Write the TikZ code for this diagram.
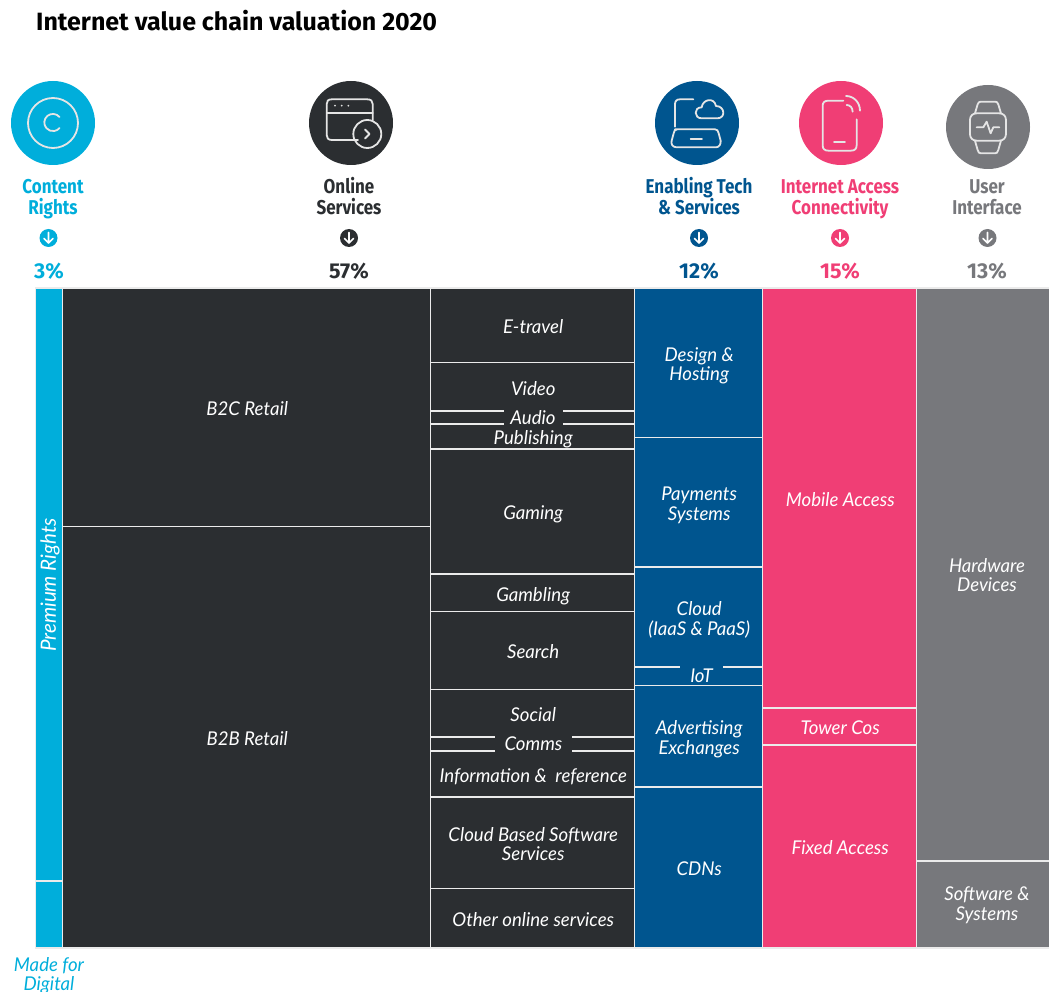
\documentclass[tikz,border=0pt]{standalone}
\usepackage{fontspec}
\setmainfont{Lato}
\newfontfamily\headf[FakeStretch=0.85]{Fira Sans}
\newfontfamily\pctf{Fira Sans}
\newfontfamily\titlef[FakeStretch=1.0]{Fira Sans}
\newfontfamily\cellf[FakeStretch=0.98]{Lato}
\definecolor{cCyan}{HTML}{00AEDB}
\definecolor{cDark}{HTML}{2B2E31}
\definecolor{cBlue}{HTML}{00558F}
\definecolor{cPink}{HTML}{F03E75}
\definecolor{cGrey}{HTML}{77787C}
\tikzset{
  x=1pt,y=-1pt,
  celltext/.style={text=white,align=center,inner sep=0pt,font=\cellf\itshape\fontsize{19}{19.5}\selectfont},
  gaptext/.style={celltext,minimum height=17pt},
  head/.style={align=center,inner sep=0pt,font=\headf\bfseries\fontsize{20}{21}\selectfont},
  pct/.style={inner sep=0pt,font=\pctf\bfseries\fontsize{21.5}{23}\selectfont},
  disc/.style={circle,inner sep=0pt,minimum size=84pt},
  smalldisc/.style={circle,inner sep=0pt,minimum size=18pt},
  ico/.style={draw=white!90!black,line width=1.8pt,line cap=round,line join=round},
}
% \cell{name}{x0}{y0}{x1}{y1}{colour}{text}
\newcommand{\cell}[7]{%
  \fill[#6,draw=white!92!black,line width=1.1pt] (#2,#3) rectangle (#4,#5);
  \node[celltext] (#1) at ({(#2+#4)/2+0.7},{(#3+#5)/2+3}) {#7\vphantom{g}};}
% \arrowdot{name}{x}{colour}
\newcommand{\arrowdot}[3]{%
  \node[smalldisc,fill=#3] (#1) at (#2,238) {};
  \draw[white,line width=1.6pt,line cap=round,line join=round]
    (#2,232.5) -- (#2,243) (#2-4.5,238.5) -- (#2,243) -- (#2+4.5,238.5);}
\begin{document}
\begin{tikzpicture}
\useasboundingbox (0,0) rectangle (1049,992);
\node[anchor=west,inner sep=0pt,font=\titlef\bfseries\fontsize{25}{27}\selectfont] (title) at (36,21) {Internet value chain valuation 2020};

% discs
\node[disc,fill=cCyan] (d1) at (53,123) {};
\node[disc,fill=cDark] (d2) at (351,123) {};
\node[disc,fill=cBlue] (d3) at (697,123) {};
\node[disc,fill=cPink] (d4) at (841,123) {};
\node[disc,fill=cGrey] (d5) at (988,127) {};

% copyright icon
\draw[ico] (53,123) circle (25);
\draw[ico] (59.5,117) arc[start angle=-40,end angle=-320,radius=8.6,x radius=8.6,y radius=8.6];

% window icon
\draw[ico] (358,140) -- (332,140) .. controls (328,140) and (326.7,138) .. (326.7,135) -- (326.7,104)
  .. controls (326.7,101) and (328,99.3) .. (332,99.3) -- (367,99.3) .. controls (371,99.3) and (372.7,101) .. (372.7,104) -- (372.7,120);
\draw[ico] (326.7,112.7) -- (372.7,112.7);
\fill[white!88!black] (335,105.7) circle (1) (341.7,105.7) circle (1) (348.3,105.7) circle (1);
\draw[ico] (367.3,134) circle (14);
\draw[ico,line width=1.9pt] (365,129.5) -- (369.5,134) -- (365,138.5);

% laptop + cloud
\begin{scope}[shift={(630,70)},x=0.3333pt,y=-0.3333pt]
\draw[ico] (190,88) -- (150,88) .. controls (140,88) and (135,93) .. (135,103) -- (135,170);
\draw[ico] (135,178) -- (255,178) .. controls (262,178) and (264,182) .. (266,190) -- (272,212)
  .. controls (273,222) and (268,232) .. (258,232) -- (140,232) .. controls (128,232) and (122,222) .. (125,212) -- (131,190) .. controls (132,182) and (135,178) .. (142,178);
\draw[ico] (182,208) -- (216,208);
\draw[ico] (215,145) .. controls (192,145) and (190,112) .. (215,112) .. controls (218,88) and (252,80) .. (258,108)
  .. controls (285,108) and (288,145) .. (262,145) -- cycle;
% phone
\draw[ico] (640,92) -- (595,92) .. controls (583,92) and (578,98) .. (578,108) -- (578,226)
  .. controls (578,237) and (584,242) .. (595,242) -- (663,242) .. controls (674,242) and (680,237) .. (680,226) -- (680,148);
\draw[ico] (612,215) -- (645,215);
\draw[ico] (650,105) .. controls (660,105) and (668,113) .. (668,125);
\draw[ico] (648,78) .. controls (672,78) and (690,98) .. (690,122);
% watch
\draw[ico] (1040,130) -- (1108,130) .. controls (1120,130) and (1128,138) .. (1128,150) -- (1128,192)
  .. controls (1128,204) and (1120,212) .. (1108,212) -- (1040,212) .. controls (1028,212) and (1020,204) .. (1020,192) -- (1020,150)
  .. controls (1020,138) and (1028,130) .. (1040,130) -- cycle;
\draw[ico] (1035,130) -- (1043,103) .. controls (1045,97) and (1048,95) .. (1053,95) -- (1095,95) .. controls (1100,95) and (1103,97) .. (1105,103) -- (1113,130);
\draw[ico] (1035,212) -- (1043,240) .. controls (1045,248) and (1048,250) .. (1053,250) -- (1095,250) .. controls (1100,250) and (1103,248) .. (1105,240) -- (1113,212);
\draw[ico] (1040,172) -- (1060,172) -- (1070,155) -- (1082,190) -- (1090,172) -- (1108,172);
\end{scope}

% headings
\node[head,text=cCyan] (h1) at (53,199) {Content\\Rights};
\node[head,text=cDark] (h2) at (349,196) {Online\\Services};
\node[head,text=cBlue] (h3) at (699,196) {Enabling Tech\\\& Services};
\node[head,text=cPink] (h4) at (840,199) {Internet Access\\Connectivity};
\node[head,text=cGrey] (h5) at (987,197) {User\\Interface};

% arrow dots
\arrowdot{a1}{48.5}{cCyan}
\arrowdot{a2}{349}{cDark}
\arrowdot{a3}{699}{cBlue}
\arrowdot{a4}{840}{cPink}
\arrowdot{a5}{987.5}{cGrey}

% percentages
\node[pct,text=cCyan] (p1) at (49,271) {3\%};
\node[pct,text=cDark] (p2) at (349,271) {57\%};
\node[pct,text=cBlue] (p3) at (699,271) {12\%};
\node[pct,text=cPink] (p4) at (840,271) {15\%};
\node[pct,text=cGrey] (p5) at (987,271) {13\%};

% content rights
\cell{c1}{35.5}{288}{62.5}{881}{cCyan}{}
\node[celltext,rotate=90,font=\cellf\itshape\fontsize{21}{22}\selectfont] (prem) at (50,585) {Premium Rights};
\cell{c2}{35.5}{881}{62.5}{948}{cCyan}{}
\node[celltext,text=cCyan,anchor=north] (made) at (49,957) {Made for\\Digital};

% retail
\cell{r1}{62.5}{288}{430.5}{526.5}{cDark}{B2C Retail}
\cell{r2}{62.5}{526.5}{430.5}{948}{cDark}{B2B Retail}

% online services
\cell{s1}{430.5}{288}{634.5}{362.5}{cDark}{E-travel}
\cell{s2}{430.5}{362.5}{634.5}{411}{cDark}{Video}
\cell{s3}{430.5}{411}{634.5}{424}{cDark}{}
\cell{s4}{430.5}{424}{634.5}{449}{cDark}{Publishing}
\node[gaptext,fill=cDark,minimum width=59pt] (s3t) at (533,417.5) {Audio};
\cell{s5}{430.5}{449}{634.5}{574}{cDark}{Gaming}
\cell{s6}{430.5}{574}{634.5}{611.5}{cDark}{Gambling}
\cell{s7}{430.5}{611.5}{634.5}{689.5}{cDark}{Search}
\cell{s8}{430.5}{689.5}{634.5}{737}{cDark}{Social}
\cell{s9}{430.5}{737}{634.5}{751}{cDark}{}
\cell{s10}{430.5}{751}{634.5}{797}{cDark}{Information \&~~reference}
\node[gaptext,fill=cDark,minimum width=77pt] (s9t) at (533.5,744) {Comms};
\cell{s11}{430.5}{797}{634.5}{888.5}{cDark}{Cloud Based Software\\Services}
\cell{s12}{430.5}{888.5}{634.5}{948}{cDark}{Other online services}

% enabling tech
\cell{b1}{634.5}{288}{762.5}{437.5}{cBlue}{Design \&\\Hosting}
\cell{b2}{634.5}{437.5}{762.5}{567}{cBlue}{Payments\\Systems}
\cell{b3}{634.5}{567}{762.5}{667}{cBlue}{Cloud\\(IaaS \& PaaS)}
\cell{b4}{634.5}{667}{762.5}{685.5}{cBlue}{}
\node[gaptext,fill=cBlue,minimum width=43pt,minimum height=22pt] (b4t) at (701.5,676) {IoT};
\cell{b5}{634.5}{685.5}{762.5}{787}{cBlue}{Advertising\\Exchanges}
\cell{b6}{634.5}{787}{762.5}{948}{cBlue}{CDNs}

% access
\cell{i1}{762.5}{288}{916.5}{708}{cPink}{Mobile Access}
\cell{i2}{762.5}{708}{916.5}{745}{cPink}{Tower Cos}
\cell{i3}{762.5}{745}{916.5}{948}{cPink}{Fixed Access}

% interface
\cell{u1}{916.5}{288}{1050}{861}{cGrey}{}
\node[celltext] (u1t) at (987,575) {Hardware\\Devices};
\cell{u2}{916.5}{861}{1050}{948}{cGrey}{}
\node[celltext] (u2t) at (987,905) {Software \&\\Systems};
\end{tikzpicture}
\end{document}
